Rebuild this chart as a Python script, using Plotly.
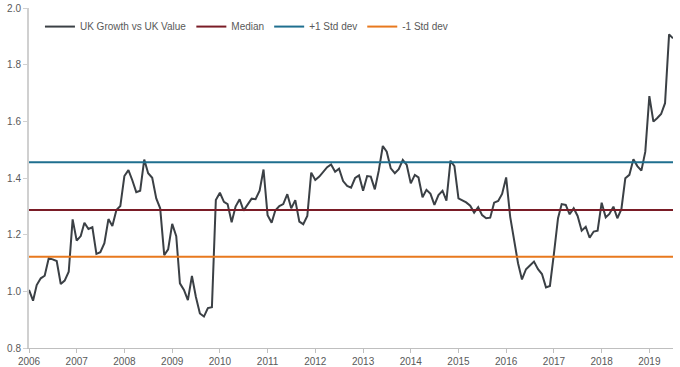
import pandas as pd
import plotly.graph_objects as go

# Monthly ratio UK Growth vs UK Value, Jan 2006 .. Jul 2019
ratio = [
    1.005, 0.967, 1.022, 1.046, 1.055, 1.117, 1.113, 1.107, 1.026, 1.038,
    1.069, 1.254, 1.179, 1.195, 1.242, 1.220, 1.226, 1.132, 1.138, 1.170,
    1.255, 1.231, 1.287, 1.301, 1.407, 1.428, 1.393, 1.350, 1.355, 1.465,
    1.417, 1.401, 1.328, 1.293, 1.128, 1.148, 1.238, 1.195, 1.028, 1.005,
    0.969, 1.054, 0.981, 0.922, 0.911, 0.941, 0.944, 1.322, 1.348, 1.316,
    1.308, 1.244, 1.299, 1.325, 1.285, 1.305, 1.327, 1.325, 1.355, 1.430,
    1.269, 1.242, 1.285, 1.301, 1.308, 1.343, 1.293, 1.322, 1.246, 1.237,
    1.266, 1.419, 1.393, 1.405, 1.422, 1.438, 1.448, 1.422, 1.433, 1.389,
    1.372, 1.366, 1.400, 1.409, 1.355, 1.407, 1.405, 1.360, 1.426, 1.513,
    1.493, 1.434, 1.417, 1.431, 1.464, 1.446, 1.381, 1.411, 1.402, 1.332,
    1.358, 1.344, 1.305, 1.340, 1.355, 1.320, 1.461, 1.442, 1.328, 1.320,
    1.314, 1.302, 1.278, 1.297, 1.269, 1.258, 1.260, 1.313, 1.319, 1.344,
    1.402, 1.263, 1.181, 1.099, 1.042, 1.078, 1.091, 1.105, 1.078, 1.061,
    1.014, 1.019, 1.134, 1.258, 1.308, 1.305, 1.272, 1.293, 1.266, 1.214,
    1.228, 1.189, 1.211, 1.214, 1.313, 1.261, 1.273, 1.299, 1.258, 1.290,
    1.399, 1.411, 1.466, 1.442, 1.426, 1.493, 1.689, 1.599, 1.611, 1.626,
    1.664, 1.907, 1.893,
]
dates = pd.date_range("2006-01-01", periods=len(ratio), freq="MS")

median_val = 1.287
plus_std = 1.456
minus_std = 1.122

x_start = "2006-01-01"
x_end = "2019-07-01"
year_ticks = [f"{y}-01-01" for y in range(2006, 2020)]
year_labels = [str(y) for y in range(2006, 2020)]
y_ticks = [0.8, 1.0, 1.2, 1.4, 1.6, 1.8, 2.0]

fig = go.Figure()
fig.add_trace(go.Scatter(x=dates, y=ratio, mode="lines", name="UK Growth vs UK Value",
                         line=dict(color="#3b4045", width=2)))
fig.add_trace(go.Scatter(x=[x_start, x_end], y=[median_val, median_val], mode="lines",
                         name="Median", line=dict(color="#7a1c26", width=2)))
fig.add_trace(go.Scatter(x=[x_start, x_end], y=[plus_std, plus_std], mode="lines",
                         name="+1 Std dev", line=dict(color="#1f6f8f", width=2)))
fig.add_trace(go.Scatter(x=[x_start, x_end], y=[minus_std, minus_std], mode="lines",
                         name="-1 Std dev", line=dict(color="#e8791e", width=2)))

fig.update_layout(
    width=680, height=367,
    margin=dict(l=29, r=7, t=8, b=19, autoexpand=False),
    paper_bgcolor="white", plot_bgcolor="white",
    font=dict(family="Liberation Sans, Arial, sans-serif", size=10, color="#595959"),
    showlegend=True,
    legend=dict(orientation="h", x=0.017, y=0.988, xanchor="left", yanchor="top",
                font=dict(size=10, color="#595959"), bgcolor="rgba(0,0,0,0)",
                itemwidth=30, tracegroupgap=0),
    xaxis=dict(type="date", range=[x_start, x_end], tickvals=year_ticks, ticktext=year_labels,
               showgrid=False, zeroline=False, showline=True, linecolor="#bfbfbf", linewidth=1,
               ticks="outside", ticklen=4, tickcolor="#bfbfbf", automargin=False,
               tickfont=dict(size=10, color="#595959")),
    yaxis=dict(range=[0.8, 2.0], tickvals=y_ticks, ticktext=[f"{v:.1f}" for v in y_ticks],
               showgrid=False, zeroline=False, showline=True, linecolor="#d0d0d0", linewidth=2,
               ticks="outside", ticklen=4, tickcolor="#d0d0d0", automargin=False,
               tickfont=dict(size=10, color="#595959")),
)

fig.write_html("out.html", config={"displayModeBar": False},
               post_script="document.body.style.margin='0px';document.body.style.overflow='hidden';")
